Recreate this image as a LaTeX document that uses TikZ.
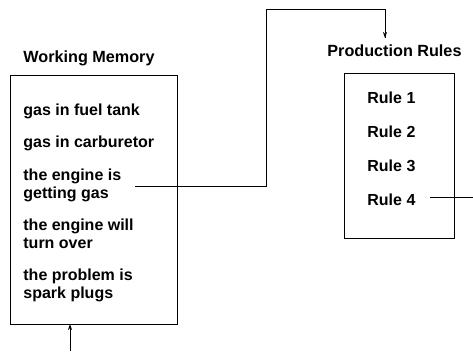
\documentclass[tikz,border=0pt]{standalone}
\usepackage{fontspec}
\setmainfont{Liberation Sans}
\usetikzlibrary{arrows.meta}
\begin{document}
\begin{tikzpicture}[x=1pt,y=-1pt,
  line width=0.8pt,
  panel/.style={draw,rectangle,inner sep=0pt,anchor=north west},
  item/.style={font=\fontsize{16}{18}\selectfont\bfseries,anchor=base west,inner sep=0pt,align=left},
  title/.style={font=\fontsize{16.2}{18}\selectfont\bfseries,anchor=base west,inner sep=0pt},
  flow/.style={-{Stealth[length=6pt,width=4pt]}}]
\useasboundingbox (0,0) rectangle (473,351);

% Working memory: title, frame and facts (two-line facts are placed by their last line)
\node[title] (wmt) at (23,62) {Working Memory};
\node[panel,minimum width=167pt,minimum height=249pt] (wm) at (10,75) {};
\node[item] (w1) at (23,115) {gas in fuel tank};
\node[item] (w2) at (23,147) {gas in carburetor};
\node[item] (w3) at (23,198) {the engine is\\getting gas};
\node[item] (w4) at (23,248) {the engine will\\turn over};
\node[item] (w5) at (23,298) {the problem is\\spark plugs};

% Production rules
\node[title] (prt) at (327,56) {Production Rules};
\node[panel,minimum width=110pt,minimum height=165pt] (pr) at (344,73) {};
\node[item] (r1) at (367,103) {Rule 1};
\node[item] (r2) at (367,137) {Rule 2};
\node[item] (r3) at (367,171) {Rule 3};
\node[item] (r4) at (367,205) {Rule 4};

% Connectors
\coordinate (ge) at (135,186);
\coordinate (out) at (473,197);
\coordinate (in) at (70,351);
\draw (ge) -| (266,9) -| (385,38) coordinate (tip);
\draw[flow] (385,30) -- (tip);
\draw (430,197) -- (out);
\draw[flow] (in) -- (70,324);
\end{tikzpicture}
\end{document}
